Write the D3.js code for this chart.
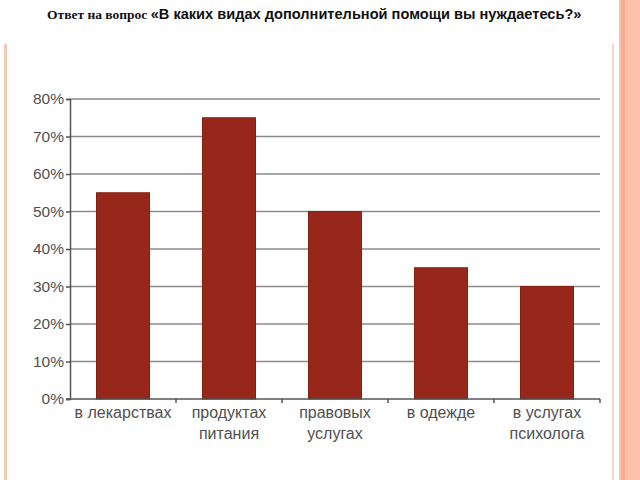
<!DOCTYPE html>
<html><head><meta charset="utf-8">
<script src="https://cdn.jsdelivr.net/npm/d3@7"></script>
<style>body{margin:0;background:#fff}svg{display:block}</style>
</head><body>
<svg id="c" width="640" height="480"></svg>
<script>
const categories = ["в лекарствах", "продуктах\nпитания", "правовых\nуслугах", "в одежде", "в услугах\nпсихолога"];
const values = [55, 75, 50, 35, 30];
const yTicks = [0, 10, 20, 30, 40, 50, 60, 70, 80];
const titlePrefix = "Ответ на вопрос ";
const titleMain = "«В каких видах дополнительной помощи вы нуждаетесь?»";

(function(){
const svg = d3.select("#c");
// decorative slide borders
svg.append("rect").attr("x",4).attr("y",44).attr("width",3).attr("height",436).attr("fill","#f6c8b6");
svg.append("rect").attr("x",612).attr("y",44).attr("width",2).attr("height",436).attr("fill","#f9d5c8");
svg.append("rect").attr("x",619).attr("y",0).attr("width",21).attr("height",480).attr("fill","#fcc2aa");
svg.append("rect").attr("x",621).attr("y",0).attr("width",4).attr("height",480).attr("fill","#f6ad92");

// title
const t = svg.append("text").attr("x",47).attr("y",19).attr("fill","#111");
t.append("tspan").attr("font-family","'Liberation Serif', serif").attr("font-weight","bold").attr("font-size","13.5px").text(titlePrefix);
t.append("tspan").attr("font-family","'Liberation Sans', Arial, sans-serif").attr("font-weight","bold").attr("font-size","14.6px").text(titleMain);

const mLeft = 70, mRight = 600, mTop = 99, mBottom = 399;
const x = d3.scaleBand().domain(categories).range([mLeft, mRight]).paddingInner(0.5).paddingOuter(0.25);
const y = d3.scaleLinear().domain([0, 80]).range([mBottom, mTop]);

// gridlines
svg.append("g").selectAll("line").data(yTicks.filter(d=>d>0)).join("line")
  .attr("x1", mLeft).attr("x2", mRight).attr("y1", d=>y(d)).attr("y2", d=>y(d))
  .attr("stroke", "#8a8a8a").attr("stroke-width", 1.5);

// bars
svg.append("g").selectAll("rect").data(values).join("rect")
  .attr("x", (d,i)=>x(categories[i])).attr("width", x.bandwidth())
  .attr("y", d=>y(d)).attr("height", d=>mBottom - y(d))
  .attr("fill", "#97271a").attr("stroke","#86200f").attr("stroke-width",1);

// y axis
const yAxis = d3.axisLeft(y).tickValues(yTicks).tickFormat(d=>d+"%").tickSize(4).tickPadding(2);
const gy = svg.append("g").attr("transform",`translate(${mLeft},0)`).call(yAxis);
gy.select(".domain").attr("stroke","#555").attr("stroke-width",1.5);
gy.selectAll(".tick line").attr("stroke","#555").attr("stroke-width",1.5);
gy.selectAll(".tick text").attr("font-family","'Liberation Sans', Arial, sans-serif").attr("font-size","15.5px").attr("fill","#505050");

// x axis line and category tick marks at boundaries
const xAxisG = svg.append("g");
xAxisG.append("line").attr("x1",mLeft-4).attr("x2",mRight).attr("y1",mBottom).attr("y2",mBottom).attr("stroke","#555").attr("stroke-width",1.5);
const step = x.step();
const bounds = categories.map((c,i)=> x(c) + x.bandwidth()/2 + step/2);
xAxisG.selectAll("line.b").data(bounds).join("line").attr("class","b")
  .attr("x1", d=>d).attr("x2", d=>d).attr("y1", mBottom).attr("y2", mBottom+4)
  .attr("stroke","#555").attr("stroke-width",1.5);

// category labels
const lab = svg.append("g").selectAll("text").data(categories).join("text")
  .attr("x", d=>x(d)+x.bandwidth()/2).attr("y", mBottom+19)
  .attr("text-anchor","middle").attr("font-family","'Liberation Sans', Arial, sans-serif")
  .attr("font-size","16px").attr("fill","#505050");
lab.each(function(d){
  const parts = d.split("\n");
  const el = d3.select(this);
  parts.forEach((p,i)=>{
    el.append("tspan").attr("x", x(d)+x.bandwidth()/2).attr("dy", i===0?0:21).text(p);
  });
});
})();
</script>
</body></html>
